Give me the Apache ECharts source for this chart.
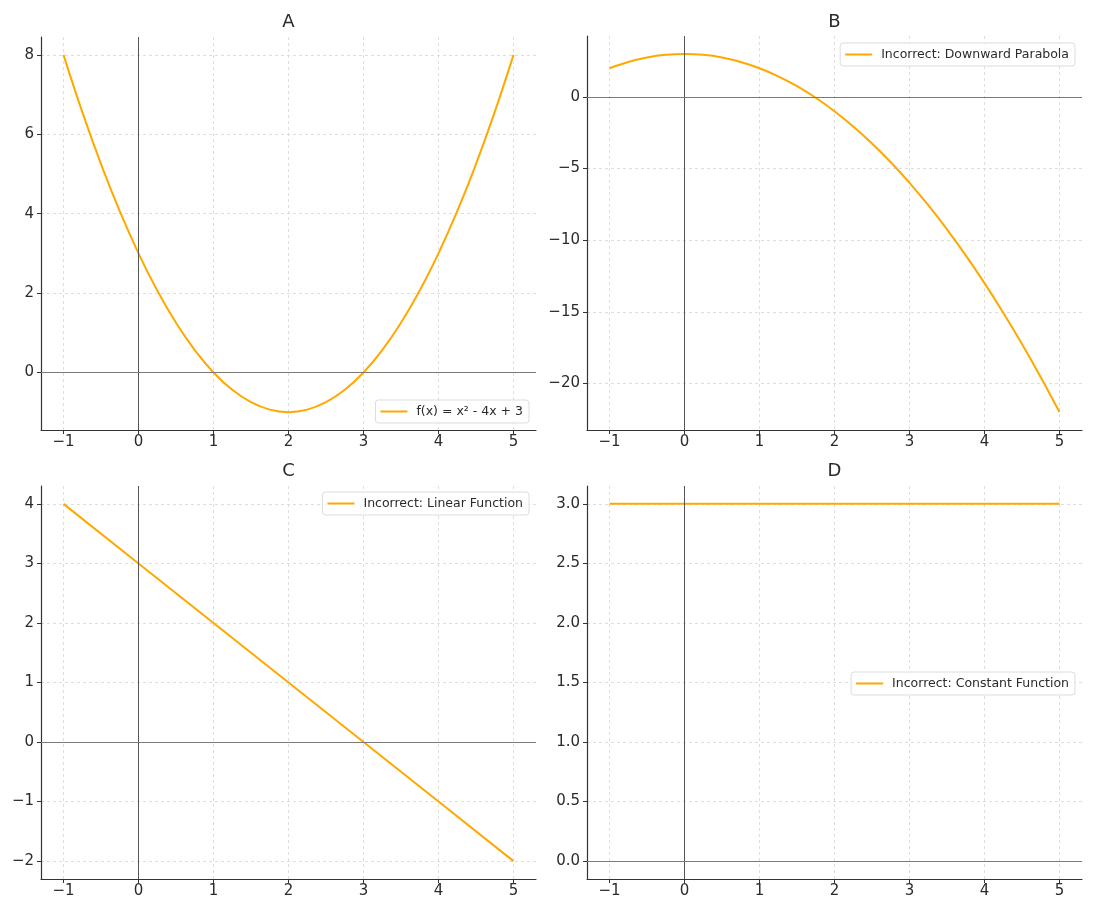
<!DOCTYPE html>
<html>
<head>
<meta charset="utf-8">
<script src="https://cdn.jsdelivr.net/npm/echarts@6/dist/echarts.min.js"></script>
<style>
html,body{margin:0;padding:0;background:#fff;}
#chart{width:1095px;height:912px;}
</style>
</head>
<body>
<div id="chart"></div>
<script>
// ---- data ----
var xsCurve = [-1,-0.75,-0.5,-0.25,0,0.25,0.5,0.75,1,1.25,1.5,1.75,2,2.25,2.5,2.75,3,3.25,3.5,3.75,4,4.25,4.5,4.75,5];
var ysA = [8,6.5625,5.25,4.0625,3,2.0625,1.25,0.5625,0,-0.4375,-0.75,-0.9375,-1,-0.9375,-0.75,-0.4375,0,0.5625,1.25,2.0625,3,4.0625,5.25,6.5625,8];
var ysB = [2,2.4375,2.75,2.9375,3,2.9375,2.75,2.4375,2,1.4375,0.75,-0.0625,-1,-2.0625,-3.25,-4.5625,-6,-7.5625,-9.25,-11.0625,-13,-15.0625,-17.25,-19.5625,-22];
var xsLine = [-1,0,1,2,3,4,5];
var ysC = [4,3,2,1,0,-1,-2];
var ysD = [3,3,3,3,3,3,3];

var titles = ['A','B','C','D'];
var names = ['f(x) = x\u00b2 - 4x + 3','Incorrect: Downward Parabola','Incorrect: Linear Function','Incorrect: Constant Function'];

var xTicks = [-1,0,1,2,3,4,5];
var yTicksA = [0,2,4,6,8];
var yTicksB = [-20,-15,-10,-5,0];
var yTicksC = [-2,-1,0,1,2,3,4];
var yTicksD = [0,0.5,1,1.5,2,2.5,3];

// ---- layout ----
var grids = [
  {left:41, top:37, width:495, height:393},
  {left:587, top:36, width:495, height:394},
  {left:41, top:486, width:495, height:393},
  {left:587, top:486, width:495, height:393}
];
var titleTops = [13, 13, 462, 462];
var yRanges = [[-1.45,8.45],[-23.25,4.25],[-2.3,4.3],[-0.15,3.15]];
var yTickSets = [yTicksA,yTicksB,yTicksC,yTicksD];
var legendPos = [
  {right:566, top:400},
  {right:20, top:43},
  {right:566, top:492},
  {right:20, top:672}
];
var seriesX = [xsCurve,xsCurve,xsLine,xsLine];
var seriesY = [ysA,ysB,ysC,ysD];

function fmtNum(v){ return v < 0 ? '\u2212' + Math.abs(v) : String(v); }
function fmtD(v){ return v < 0 ? '\u2212' + Math.abs(v).toFixed(1) : v.toFixed(1); }

var FONT = 'DejaVu Sans';
var ORANGE = '#FFA800';
var TXT = '#2b2b2b';

var option = {
  animation:false,
  backgroundColor:'#fff',
  textStyle:{fontFamily:FONT},
  title:[], grid:[], xAxis:[], yAxis:[], series:[], legend:[]
};

for (var i=0;i<4;i++){
  var g = grids[i];
  option.grid.push({left:g.left, top:g.top, width:g.width, height:g.height, containLabel:false});
  option.title.push({
    text:titles[i], left:g.left + g.width/2, top:titleTops[i], textAlign:'center', padding:0,
    textStyle:{fontFamily:FONT, fontSize:18, fontWeight:'normal', color:TXT}
  });
  option.xAxis.push({
    type:'value', gridIndex:i, min:-1.3, max:5.3,
    axisLine:{show:true, onZero:false, lineStyle:{color:'#333', width:1.2}},
    axisTick:{show:true, length:4, customValues:xTicks, lineStyle:{color:'#333', width:1}},
    axisLabel:{customValues:xTicks, margin:5, fontSize:15, fontFamily:FONT, color:TXT, formatter:fmtNum},
    splitLine:{show:true, lineStyle:{color:'#d6d6d6', width:0.8, type:[3,3]}}
  });
  option.yAxis.push({
    type:'value', gridIndex:i, min:yRanges[i][0], max:yRanges[i][1],
    axisLine:{show:true, onZero:false, lineStyle:{color:'#333', width:1.2}},
    axisTick:{show:true, length:4, customValues:yTickSets[i], lineStyle:{color:'#333', width:1}},
    axisLabel:{customValues:yTickSets[i], margin:7, fontSize:15, fontFamily:FONT, color:TXT, formatter:(i===3?fmtD:fmtNum)},
    splitLine:{show:true, lineStyle:{color:'#d6d6d6', width:0.8, type:[3,3]}}
  });
  var pts = [];
  for (var k=0;k<seriesX[i].length;k++){ pts.push([seriesX[i][k], seriesY[i][k]]); }
  option.series.push({
    type:'line', name:names[i], xAxisIndex:i, yAxisIndex:i, data:pts,
    smooth:(i<2?0.4:false), symbol:'none', showSymbol:false,
    lineStyle:{color:ORANGE, width:2}, itemStyle:{color:ORANGE}, z:3,
    markLine:{
      silent:true, symbol:['none','none'], animation:false,
      label:{show:false},
      lineStyle:{color:'#777', width:1, type:'solid'},
      data:[
        {xAxis:0, lineStyle:{color:'#555', width:1, type:'solid'}},
        {yAxis:0, lineStyle:{color:'#7a7a7a', width:1.2, type:'solid'}}
      ]
    }
  });
  var lp = legendPos[i];
  option.legend.push({
    data:[names[i]], right:lp.right, top:lp.top, orient:'horizontal',
    icon:'rect', itemWidth:27, itemHeight:2,
    padding:[5,6,5,5], borderColor:'#dcdcdc', borderWidth:1, borderRadius:3,
    backgroundColor:'rgba(255,255,255,0.85)',
    selectedMode:false,
    textStyle:{fontFamily:FONT, fontSize:12.5, color:TXT, padding:[0,0,0,4]}
  });
}

var chart = echarts.init(document.getElementById('chart'), null, {renderer:'canvas'});
chart.setOption(option);
</script>
</body>
</html>
